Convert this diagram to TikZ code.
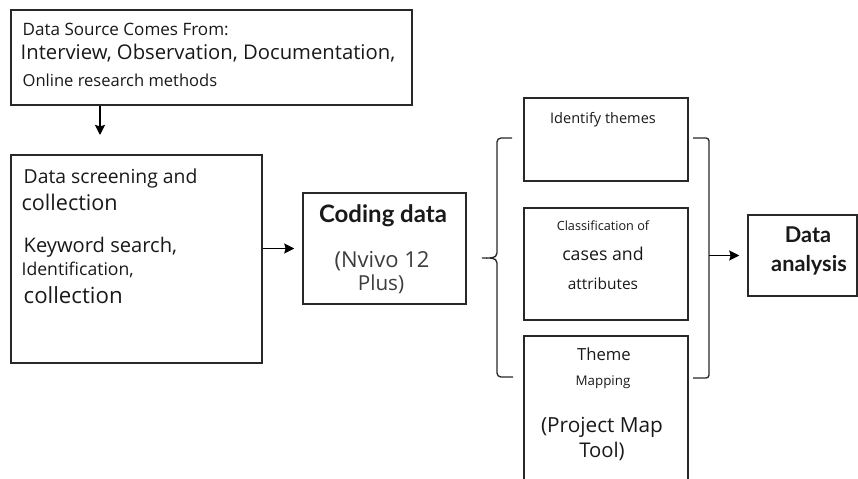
\documentclass[tikz,border=0pt]{standalone}
\usepackage{fontspec}
\setmainfont{Open Sans}
\newfontfamily\headfont{Lato}
\usetikzlibrary{fit,positioning,arrows.meta}
\definecolor{linegray}{RGB}{40,40,40}
\definecolor{txtgray}{RGB}{25,25,25}
\definecolor{softgray}{RGB}{60,60,60}
\tikzset{
  box/.style={draw=linegray, line width=1.1pt, inner sep=0pt},
  txt/.style={inner sep=0pt, text=txtgray, anchor=base west},
  ctxt/.style={inner sep=0pt, text=txtgray, anchor=base},
  link/.style={->, line width=1.3pt, black},
}
\newcommand{\sz}[1]{\fontsize{#1}{#1}\selectfont}

\begin{document}
\begin{tikzpicture}[x=0.75pt,y=-0.75pt,>={Stealth[length=7.5pt,width=7.5pt,inset=1pt]},line width=1pt]
  \useasboundingbox (0,0) rectangle (858,479);

  % boxes
  \node[box, fit={(11,10) (412,105)}] (source) {};
  \node[box, fit={(11,155) (262,363)}] (screen) {};
  \node[box, fit={(303,193) (466,304)}] (coding) {};
  \node[box, fit={(524,98) (688,181)}] (themes) {};
  \node[box, fit={(524,208) (688,320)}] (classif) {};
  \node[box, fit={(524,336) (688,495)}] (mapping) {};
  \node[box, fit={(748,215) (857,296)}] (analysis) {};

  % data source
  \node[txt] (srchead) at (22,35) {\sz{12.8}Data Source Comes From:};
  \node[txt] (srcline) at (20,59) {\sz{15.2}Interview, Observation, Documentation,};
  \node[txt] (srconline) at (22,86) {\sz{12.4}Online research methods};

  % screening
  \node[txt] (scrA) at (23,183) {\sz{14.5}Data screening and};
  \node[txt] (scrB) at (21,210) {\sz{16.2}collection};
  \node[txt] (scrC) at (23,252) {\sz{15.1}Keyword search,};
  \node[txt] (scrD) at (21,275) {\sz{13.2}Identification,};
  \node[txt] (scrE) at (23,303) {\sz{16.7}collection};

  % coding
  \node[ctxt] (codA) at (383,222) {\headfont\bfseries\sz{18}Coding data};
  \node[ctxt, text=softgray] (codB) at (382,267) {\sz{16.5}(Nvivo 12};
  \node[ctxt, text=softgray] (codC) at (381,290) {\sz{15.5}Plus)};

  % right column
  \node[ctxt] (thmA) at (603,123) {\sz{10.9}Identify themes};
  \node[ctxt] (claA) at (603,230) {\sz{9.5}Classification of};
  \node[ctxt] (claB) at (603,260) {\sz{13.3}cases and};
  \node[ctxt] (claC) at (603,289) {\sz{11.6}attributes};
  \node[ctxt] (mapA) at (604,360) {\sz{12.5}Theme};
  \node[ctxt] (mapB) at (603,385) {\sz{10}Mapping};
  \node[ctxt] (mapC) at (602,432) {\sz{15.6}(Project Map};
  \node[ctxt] (mapD) at (602,457) {\sz{15.2}Tool)};

  % analysis
  \node[ctxt] (anaA) at (808,242) {\headfont\bfseries\sz{16.3}Data};
  \node[ctxt] (anaB) at (809,271) {\headfont\bfseries\sz{16.3}analysis};

  % brackets
  \draw[linegray] (512,138) -- (501,138) to[out=180,in=90] (497,142) -- (497,253)
    to[out=-90,in=0] (482,258) to[out=0,in=90] (497,263) -- (497,373)
    to[out=-90,in=180] (501,377) -- (513,377);
  \draw[linegray] (693,138) -- (706,138) to[out=0,in=90] (709,141) -- (709,375)
    to[out=-90,in=0] (706,378) -- (693,378);
  \coordinate (rbr) at (709,256);
  \coordinate (down) at (100,135);

  % arrows
  \draw[link] (source.south -| down) -- (down);
  \draw[link] (screen.east |- coding.west) -- ([xshift=-6pt]coding.west);
  \draw[link] (analysis.west -| rbr) -- ([xshift=-6pt]analysis.west);
\end{tikzpicture}
\end{document}
